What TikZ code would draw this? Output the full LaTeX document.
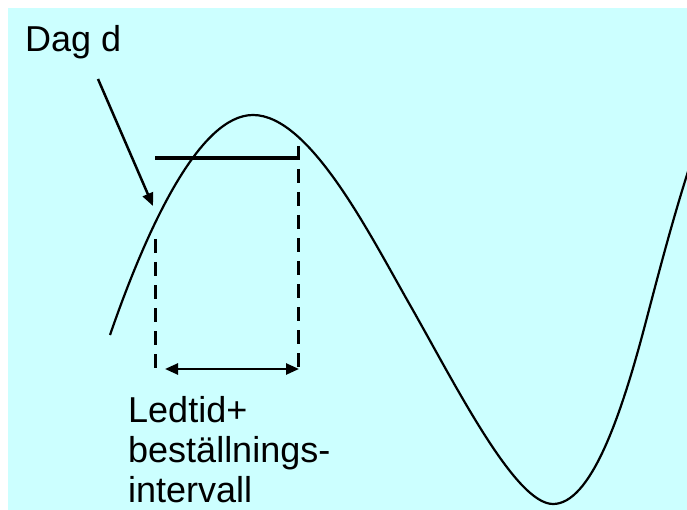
\documentclass[tikz,border=0pt]{standalone}
\usepackage{fontspec}
\setmainfont{Liberation Sans}
\usetikzlibrary{arrows.meta, positioning}
\definecolor{bgcyan}{HTML}{CCFFFF}
\tikzset{
    txt/.style={inner sep=0pt, font=\fontsize{36}{40}\selectfont, align=left},
    curve/.style={line width=2.2pt, line join=round},
    dashline/.style={line width=3pt, dash pattern=on 14pt off 9pt},
    arrow/.style={-{Triangle[length=13pt, width=11pt]}, line width=2.5pt},
    darrow/.style={{Triangle[length=13pt, width=11pt]}-{Triangle[length=13pt, width=11pt]}, line width=2.5pt}
}
\begin{document}
\begin{tikzpicture}[x=1pt, y=-1pt]
    \useasboundingbox (0,0) rectangle (687,510);
    % --- Background ---
    \fill[bgcyan] (8,8) rectangle (687,510);

    % --- Labels ---
    \node (dag) [txt, anchor=base west] at (25,52) {Dag d};
    \node (ledtid) [txt, anchor=base west] at (128,502) {Ledtid+\\beställnings-\\intervall};

    % --- Demand curve ---
    \begin{scope}
        \clip (8,8) rectangle (687,510);
        \draw[curve] (110,335) .. controls (148,225) and (200,115) .. (253,115)
            .. controls (310,115) and (370,235) .. (410,305)
            .. controls (455,384) and (515,504) .. (553,504)
            .. controls (590,504) and (620,420) .. (645,325)
            .. controls (660,268) and (675,210) .. (695,150);
    \end{scope}

    % --- Marker points ---
    \coordinate (dagstart) at (98,79);
    \coordinate (dagpt) at (153,206);
    \coordinate (levelL) at (155,158);
    \coordinate (levelR) at (298,158);
    \coordinate (dashLtop) at (155,239);
    \coordinate (dashLbot) at (155,368);
    \coordinate (dashRtop) at (298,146);
    \coordinate (dashRbot) at (298,368);
    \coordinate (spanL) at (165,369);
    \coordinate (spanR) at (299,369);

    \draw[arrow] (dagstart) -- (dagpt);
    \draw[line width=4pt] (levelL) -- (levelR);
    \draw[dashline] (dashLtop) -- (dashLbot);
    \draw[dashline] (dashRtop) -- (dashRbot);
    \draw[darrow] (spanL) -- (spanR);
\end{tikzpicture}
\end{document}
